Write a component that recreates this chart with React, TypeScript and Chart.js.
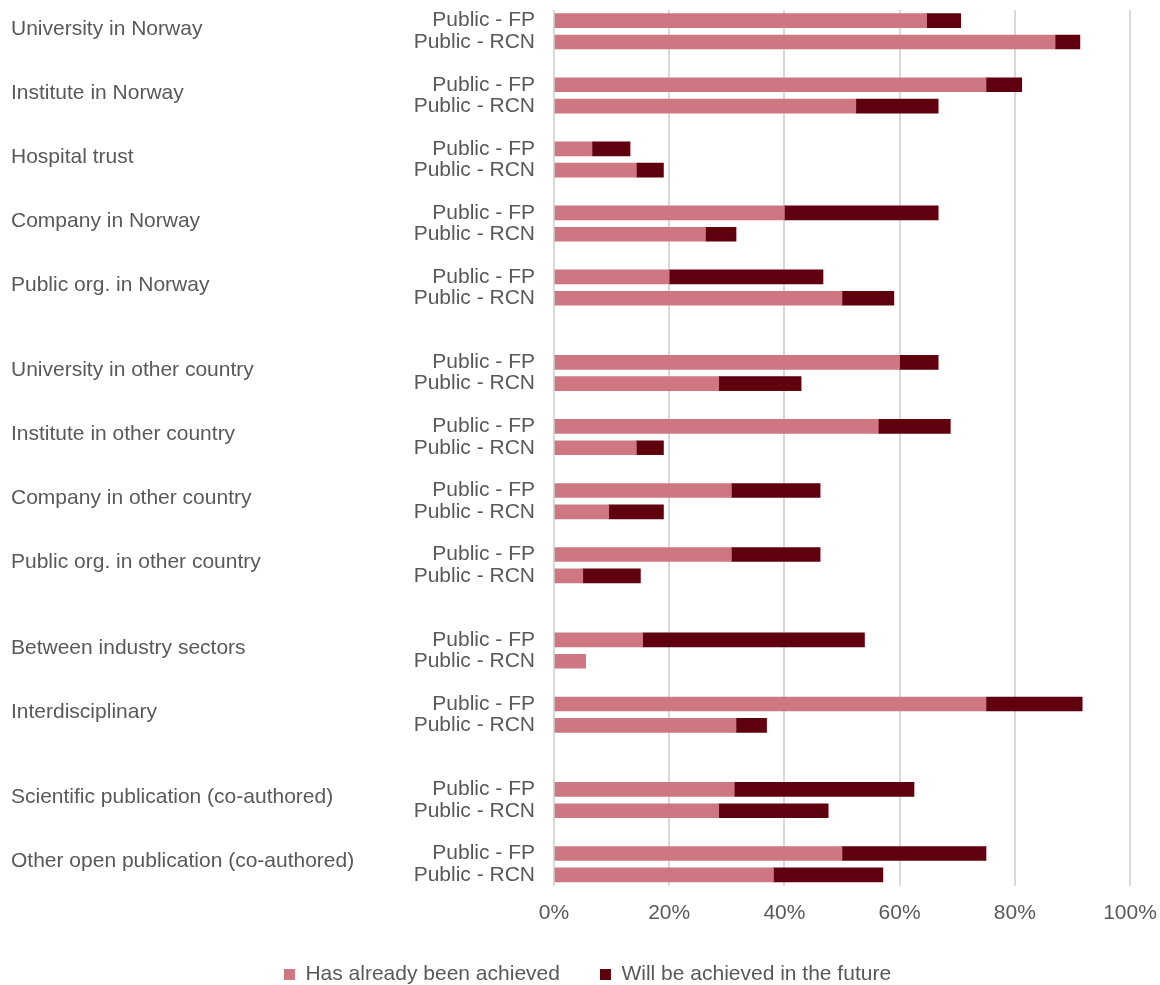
import React, { useEffect, useRef } from "react";
import { Chart, registerables } from "chart.js";

Chart.register(...registerables);

const groupNames = [
  "University in Norway",
  "Institute in Norway",
  "Hospital trust",
  "Company in Norway",
  "Public org. in Norway",
  "University in other country",
  "Institute in other country",
  "Company in other country",
  "Public org. in other country",
  "Between industry sectors",
  "Interdisciplinary",
  "Scientific publication (co-authored)",
  "Other open publication (co-authored)",
];
const rowLabels = ["Public - FP", "Public - RCN"];
const seriesNames = ["Has already been achieved", "Will be achieved in the future"];

const achievedFP = [64.7, 75.0, 6.6, 40.0, 20.0, 60.0, 56.3, 30.8, 30.8, 15.4, 75.0, 31.3, 50.0];
const achievedRCN = [87.0, 52.4, 14.3, 26.3, 50.0, 28.6, 14.3, 9.5, 5.0, 5.4, 31.6, 28.6, 38.1];
const futureFP = [5.9, 6.2, 6.6, 26.7, 26.7, 6.7, 12.5, 15.4, 15.4, 38.5, 16.7, 31.2, 25.0];
const futureRCN = [4.3, 14.3, 4.7, 5.3, 9.0, 14.3, 4.7, 9.5, 10.0, 0, 5.3, 19.0, 19.0];

// groups that are followed by an extra empty row (section breaks)
const sectionBreakAfter = [4, 8, 10];
const xTickValues = [0, 20, 40, 60, 80, 100];

const FONT = "'Liberation Sans', Arial, Helvetica, sans-serif";
const TEXT = "#595959";
const PINK = "#CE7681";
const DARK = "#5E000E";

function buildRows() {
  const labels: string[] = [];
  const achieved: (number | null)[] = [];
  const future: (number | null)[] = [];
  const groupStart: number[] = [];
  groupNames.forEach((_, g) => {
    groupStart.push(labels.length);
    labels.push(rowLabels[0]);
    achieved.push(achievedFP[g]);
    future.push(futureFP[g]);
    labels.push(rowLabels[1]);
    achieved.push(achievedRCN[g]);
    future.push(futureRCN[g]);
    if (g < groupNames.length - 1) {
      labels.push("");
      achieved.push(null);
      future.push(null);
    }
    if (sectionBreakAfter.includes(g)) {
      labels.push("");
      achieved.push(null);
      future.push(null);
    }
  });
  return { labels, achieved, future, groupStart };
}

export default function App() {
  const ref = useRef<HTMLCanvasElement>(null);

  useEffect(() => {
    const rows = buildRows();
    const groupLabelPlugin = {
      id: "groupLabels",
      afterDraw(chart: any) {
        const y = chart.scales.y;
        const ctx = chart.ctx;
        ctx.save();
        ctx.font = `21px ${FONT}`;
        ctx.fillStyle = TEXT;
        ctx.textAlign = "left";
        ctx.textBaseline = "middle";
        rows.groupStart.forEach((r, g) => {
          const yy = (y.getPixelForValue(r) + y.getPixelForValue(r + 1)) / 2 - 2.5;
          ctx.fillText(groupNames[g], 11, yy);
        });
        ctx.restore();
      },
    };

    const chart = new Chart(ref.current!, {
      type: "bar",
      data: {
        labels: rows.labels,
        datasets: [
          {
            label: seriesNames[0],
            data: rows.achieved,
            backgroundColor: PINK,
            borderWidth: 0,
            barThickness: 14,
          },
          {
            label: seriesNames[1],
            data: rows.future,
            backgroundColor: DARK,
            borderWidth: 0,
            barThickness: 14,
          },
        ],
      },
      options: {
        indexAxis: "y",
        animation: false,
        responsive: false,
        devicePixelRatio: 1,
        layout: { padding: { top: 10, right: 30, bottom: -10, left: 45 } },
        scales: {
          x: {
            stacked: true,
            min: 0,
            max: 100,
            afterBuildTicks(scale: any) {
              scale.ticks = xTickValues.map((v) => ({ value: v }));
            },
            afterFit(scale: any) {
              scale.paddingLeft = 0;
              scale.paddingRight = 0;
              scale.height = 38.5;
            },
            ticks: {
              callback: (v: any) => `${v}%`,
              color: TEXT,
              font: { family: FONT, size: 21, lineHeight: 0.5 },
              padding: 22,
              maxRotation: 0,
            },
            grid: { color: "#d9d9d9", lineWidth: 2, drawTicks: false },
            border: { display: false },
          },
          y: {
            stacked: true,
            afterFit(scale: any) {
              scale.width = 509;
              scale.paddingTop = 0;
              scale.paddingBottom = 0;
            },
            ticks: {
              color: TEXT,
              font: { family: FONT, size: 21 },
              padding: 19,
              autoSkip: false,
            },
            grid: { display: false, drawTicks: false },
            border: { display: false },
          },
        },
        plugins: {
          legend: {
            position: "bottom",
            labels: {
              color: TEXT,
              font: { family: FONT, size: 21 },
              boxWidth: 11,
              boxHeight: 11,
              padding: 40,
            },
          },
          tooltip: { enabled: false },
        },
      },
      plugins: [groupLabelPlugin],
    });
    return () => chart.destroy();
  }, []);

  return (
    <canvas
      ref={ref}
      width={1160}
      height={985}
      style={{ position: "absolute", left: 0, top: 0, width: 1160, height: 985 }}
    />
  );
}
